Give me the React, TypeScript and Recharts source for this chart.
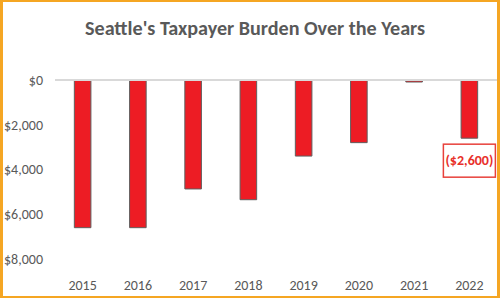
import { Bar, BarChart, LabelList, ReferenceLine, XAxis, YAxis } from 'recharts'

const years = ['2015', '2016', '2017', '2018', '2019', '2020', '2021', '2022']
const burden = [-6600, -6600, -4870, -5350, -3400, -2800, -90, -2600]
const yTicks = [0, -2000, -4000, -6000, -8000]

const data = years.map((year, i) => ({ year, burden: burden[i] }))

const font = 'Carlito, Lato, "Open Sans", sans-serif'
const gray = '#595959'

const money = (v: number) => '$' + Math.abs(v).toLocaleString('en-US')

// only the last year gets the boxed callout
const Callout = (props: any) => {
   const { x, y, width, height, value, index } = props
   if (index !== years.length - 1) return null
   const bottom = Math.max(Number(y), Number(y) + Number(height))
   const cx = Number(x) + Number(width) / 2
   const top = bottom + 6
   return (
      <g>
         <rect x={cx - 26} y={top} width={52} height={33} fill="#fff" stroke="#E8413B" strokeWidth={1.5} />
         <text x={cx} y={top + 21} textAnchor="middle" fill="#E8302A" fontSize={14} fontWeight={700} fontFamily={font}>
            {'(' + money(value) + ')'}
         </text>
      </g>
   )
}

export default function App() {
   return (
      <div style={{ position: 'absolute', left: 0, top: 0, width: 502, height: 298, background: '#fff' }}>
         <BarChart
            width={502}
            height={298}
            data={data}
            margin={{ top: 80, right: 5, bottom: 9, left: 0 }}
            barCategoryGap="65%"
         >
            <XAxis
               dataKey="year"
               axisLine={false}
               tickLine={false}
               tickSize={0}
               tickMargin={21}
               height={30}
               tick={{ fill: gray, fontSize: 14, fontFamily: font }}
            />
            <YAxis
               domain={[-8000, 0]}
               ticks={yTicks}
               axisLine={false}
               tickLine={false}
               tickSize={0}
               tickMargin={12}
               width={55}
               tickFormatter={money}
               tick={{ fill: gray, fontSize: 14, fontFamily: font }}
            />
            <ReferenceLine y={0} stroke="#d9d9d9" strokeWidth={2} />
            <Bar dataKey="burden" fill="#ED1C24" stroke="#5f5f5f" strokeWidth={1} isAnimationActive={false}>
               <LabelList dataKey="burden" content={Callout} />
            </Bar>
         </BarChart>
         <svg width={502} height={298} style={{ position: 'absolute', left: 0, top: 0, pointerEvents: 'none' }}>
            <text x={255} y={35} textAnchor="middle" fill={gray} fontSize={21} fontWeight={700} fontFamily={font} textLength={340} lengthAdjust="spacingAndGlyphs">
               Seattle's Taxpayer Burden Over the Years
            </text>
         </svg>
         <div
            style={{
               position: 'absolute',
               left: 0,
               top: 0,
               width: 500,
               height: 298,
               boxSizing: 'border-box',
               borderStyle: 'solid',
               borderColor: '#F5A623',
               borderWidth: '2px 3px 2px 3px',
               pointerEvents: 'none'
            }}
         />
      </div>
   )
}
